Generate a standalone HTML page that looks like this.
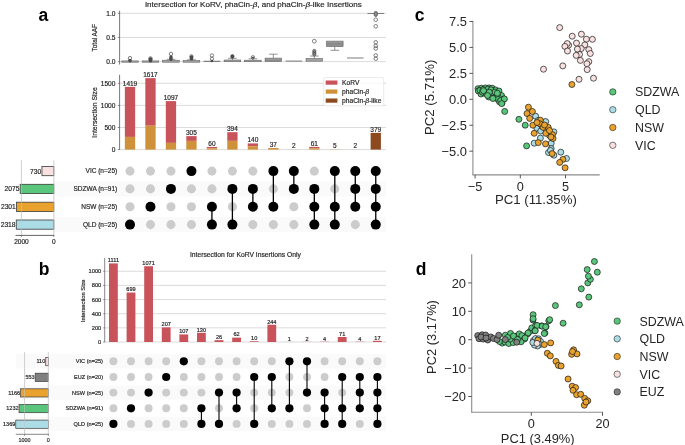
<!DOCTYPE html>
<html><head><meta charset="utf-8"><style>
html,body{margin:0;padding:0;background:#fff;}
body{width:685px;height:445px;overflow:hidden;}
svg{display:block;font-family:"Liberation Sans", sans-serif;will-change:transform;}
</style></head><body>
<svg width="685" height="445" viewBox="0 0 685 445">
<rect width="685" height="445" fill="#fff"/>
<text x="38.50" y="20.90" font-size="17.5" text-anchor="start" fill="#000" font-weight="bold">a</text>
<text x="38.80" y="274.60" font-size="17.5" text-anchor="start" fill="#000" font-weight="bold">b</text>
<text x="414.80" y="20.60" font-size="17.5" text-anchor="start" fill="#000" font-weight="bold">c</text>
<text x="415.80" y="274.60" font-size="17.5" text-anchor="start" fill="#000" font-weight="bold">d</text>
<text x="253.30" y="7.30" font-size="8.03" text-anchor="middle" fill="#262626" stroke="#262626" stroke-width="0.18">Intersection for KoRV, phaCin-<tspan font-style="italic">β</tspan>, and phaCin-<tspan font-style="italic">β</tspan>-like Insertions</text>
<line x1="119.60" y1="61.60" x2="386.00" y2="61.60" stroke="#d2d2d2" stroke-width="0.8"/>
<line x1="117.80" y1="61.60" x2="119.60" y2="61.60" stroke="#555" stroke-width="0.7"/>
<text x="115.40" y="64.20" font-size="6.6" text-anchor="end" fill="#262626" stroke="#262626" stroke-width="0.18">0.0</text>
<line x1="119.60" y1="37.45" x2="386.00" y2="37.45" stroke="#d2d2d2" stroke-width="0.8"/>
<line x1="117.80" y1="37.45" x2="119.60" y2="37.45" stroke="#555" stroke-width="0.7"/>
<text x="115.40" y="40.05" font-size="6.6" text-anchor="end" fill="#262626" stroke="#262626" stroke-width="0.18">0.5</text>
<line x1="119.60" y1="13.30" x2="386.00" y2="13.30" stroke="#d2d2d2" stroke-width="0.8"/>
<line x1="117.80" y1="13.30" x2="119.60" y2="13.30" stroke="#555" stroke-width="0.7"/>
<text x="115.40" y="15.90" font-size="6.6" text-anchor="end" fill="#262626" stroke="#262626" stroke-width="0.18">1.0</text>
<line x1="119.60" y1="10.80" x2="119.60" y2="64.60" stroke="#555" stroke-width="0.8"/>
<text x="96.80" y="37.70" font-size="6.4" text-anchor="middle" fill="#262626" transform="rotate(-90 96.8 37.7)" stroke="#262626" stroke-width="0.18">Total AAF</text>
<rect x="121.70" y="60.90" width="16.60" height="1.30" fill="#a2a2a2" stroke="#666666" stroke-width="0.6"/>
<rect x="128.20" y="58.80" width="3.60" height="3.60" rx="1.80" fill="#4a4a4a"/>
<circle cx="130.00" cy="58.10" r="1.70" fill="none" stroke="#4a4a4a" stroke-width="0.7"/>
<rect x="142.18" y="60.90" width="16.60" height="1.30" fill="#a2a2a2" stroke="#666666" stroke-width="0.6"/>
<rect x="148.58" y="57.30" width="3.80" height="5.10" rx="1.90" fill="#4a4a4a"/>
<circle cx="150.48" cy="58.40" r="1.70" fill="none" stroke="#4a4a4a" stroke-width="0.7"/>
<line x1="170.96" y1="60.20" x2="170.96" y2="59.30" stroke="#666666" stroke-width="0.7"/>
<line x1="166.66" y1="59.30" x2="175.26" y2="59.30" stroke="#666666" stroke-width="0.7"/>
<rect x="162.66" y="60.20" width="16.60" height="2.00" fill="#a2a2a2" stroke="#666666" stroke-width="0.6"/>
<rect x="169.26" y="55.30" width="3.40" height="5.70" rx="1.70" fill="#4a4a4a"/>
<circle cx="170.96" cy="53.90" r="1.70" fill="none" stroke="#4a4a4a" stroke-width="0.7"/>
<line x1="191.44" y1="60.50" x2="191.44" y2="59.80" stroke="#666666" stroke-width="0.7"/>
<line x1="187.14" y1="59.80" x2="195.74" y2="59.80" stroke="#666666" stroke-width="0.7"/>
<rect x="183.14" y="60.50" width="16.60" height="1.70" fill="#a2a2a2" stroke="#666666" stroke-width="0.6"/>
<rect x="189.64" y="55.20" width="3.60" height="5.30" rx="1.80" fill="#4a4a4a"/>
<circle cx="191.44" cy="56.30" r="1.60" fill="none" stroke="#4a4a4a" stroke-width="0.7"/>
<line x1="203.62" y1="61.30" x2="220.22" y2="61.30" stroke="#666666" stroke-width="1.0"/>
<circle cx="211.92" cy="55.50" r="1.70" fill="none" stroke="#4a4a4a" stroke-width="0.7"/>
<circle cx="211.92" cy="58.80" r="1.70" fill="none" stroke="#4a4a4a" stroke-width="0.7"/>
<rect x="210.62" y="59.80" width="2.60" height="2.50" rx="1.30" fill="#4a4a4a"/>
<line x1="232.40" y1="60.00" x2="232.40" y2="58.30" stroke="#666666" stroke-width="0.7"/>
<line x1="228.10" y1="58.30" x2="236.70" y2="58.30" stroke="#666666" stroke-width="0.7"/>
<rect x="224.10" y="60.00" width="16.60" height="1.70" fill="#a2a2a2" stroke="#666666" stroke-width="0.6"/>
<rect x="230.60" y="54.60" width="3.60" height="4.20" rx="1.80" fill="#4a4a4a"/>
<circle cx="232.40" cy="56.20" r="1.60" fill="none" stroke="#4a4a4a" stroke-width="0.7"/>
<line x1="252.88" y1="60.20" x2="252.88" y2="58.80" stroke="#666666" stroke-width="0.7"/>
<line x1="248.58" y1="58.80" x2="257.18" y2="58.80" stroke="#666666" stroke-width="0.7"/>
<rect x="244.58" y="60.20" width="16.60" height="1.50" fill="#a2a2a2" stroke="#666666" stroke-width="0.6"/>
<circle cx="252.88" cy="57.30" r="1.70" fill="none" stroke="#4a4a4a" stroke-width="0.7"/>
<rect x="251.58" y="56.80" width="2.60" height="1.60" rx="1.30" fill="#4a4a4a"/>
<line x1="273.36" y1="58.10" x2="273.36" y2="54.20" stroke="#666666" stroke-width="0.7"/>
<line x1="269.06" y1="54.20" x2="277.66" y2="54.20" stroke="#666666" stroke-width="0.7"/>
<rect x="265.06" y="58.10" width="16.60" height="3.50" fill="#a2a2a2" stroke="#666666" stroke-width="0.6"/>
<line x1="265.06" y1="60.20" x2="281.66" y2="60.20" stroke="#666666" stroke-width="0.6"/>
<line x1="285.54" y1="61.10" x2="302.14" y2="61.10" stroke="#777" stroke-width="1.0"/>
<line x1="314.32" y1="58.50" x2="314.32" y2="56.00" stroke="#666666" stroke-width="0.7"/>
<line x1="310.02" y1="56.00" x2="318.62" y2="56.00" stroke="#666666" stroke-width="0.7"/>
<rect x="306.02" y="58.50" width="16.60" height="2.70" fill="#a2a2a2" stroke="#666666" stroke-width="0.6"/>
<circle cx="314.32" cy="41.20" r="1.90" fill="none" stroke="#4a4a4a" stroke-width="0.7"/>
<rect x="312.72" y="49.4" width="3.2" height="6.6" rx="1.5" fill="#9a9a9a"/>
<circle cx="314.32" cy="50.90" r="1.60" fill="none" stroke="#4a4a4a" stroke-width="0.7"/>
<circle cx="314.32" cy="52.70" r="1.60" fill="none" stroke="#4a4a4a" stroke-width="0.7"/>
<circle cx="314.32" cy="54.40" r="1.60" fill="none" stroke="#4a4a4a" stroke-width="0.7"/>
<line x1="334.80" y1="46.70" x2="334.80" y2="50.30" stroke="#666666" stroke-width="0.7"/>
<line x1="330.50" y1="50.30" x2="339.10" y2="50.30" stroke="#666666" stroke-width="0.7"/>
<rect x="326.50" y="41.10" width="16.60" height="5.60" fill="#a2a2a2" stroke="#666666" stroke-width="0.6"/>
<line x1="326.50" y1="43.20" x2="343.10" y2="43.20" stroke="#666666" stroke-width="0.6"/>
<line x1="326.50" y1="45.00" x2="343.10" y2="45.00" stroke="#666666" stroke-width="0.6"/>
<line x1="346.98" y1="58.00" x2="363.58" y2="58.00" stroke="#a3a3a3" stroke-width="1.4"/>
<line x1="367.46" y1="13.50" x2="384.06" y2="13.50" stroke="#666666" stroke-width="0.8"/>
<circle cx="375.76" cy="19.70" r="1.80" fill="none" stroke="#4a4a4a" stroke-width="0.7"/>
<circle cx="375.76" cy="26.30" r="1.80" fill="none" stroke="#4a4a4a" stroke-width="0.7"/>
<circle cx="375.76" cy="42.30" r="1.80" fill="none" stroke="#4a4a4a" stroke-width="0.7"/>
<circle cx="375.76" cy="45.90" r="1.80" fill="none" stroke="#4a4a4a" stroke-width="0.7"/>
<circle cx="375.76" cy="48.50" r="1.80" fill="none" stroke="#4a4a4a" stroke-width="0.7"/>
<circle cx="375.76" cy="55.40" r="1.80" fill="none" stroke="#4a4a4a" stroke-width="0.7"/>
<circle cx="375.76" cy="58.70" r="1.80" fill="none" stroke="#4a4a4a" stroke-width="0.7"/>
<rect x="374.16" y="11.4" width="3.2" height="5.0" rx="1.5" fill="#8a8a8a" stroke="#4a4a4a" stroke-width="0.7"/>
<line x1="119.60" y1="149.60" x2="386.00" y2="149.60" stroke="#d2d2d2" stroke-width="0.8"/>
<line x1="117.80" y1="149.60" x2="119.60" y2="149.60" stroke="#555" stroke-width="0.7"/>
<text x="115.40" y="152.20" font-size="6.6" text-anchor="end" fill="#262626" stroke="#262626" stroke-width="0.18">0</text>
<line x1="119.60" y1="127.50" x2="386.00" y2="127.50" stroke="#d2d2d2" stroke-width="0.8"/>
<line x1="117.80" y1="127.50" x2="119.60" y2="127.50" stroke="#555" stroke-width="0.7"/>
<text x="115.40" y="130.10" font-size="6.6" text-anchor="end" fill="#262626" stroke="#262626" stroke-width="0.18">500</text>
<line x1="119.60" y1="105.40" x2="386.00" y2="105.40" stroke="#d2d2d2" stroke-width="0.8"/>
<line x1="117.80" y1="105.40" x2="119.60" y2="105.40" stroke="#555" stroke-width="0.7"/>
<text x="115.40" y="108.00" font-size="6.6" text-anchor="end" fill="#262626" stroke="#262626" stroke-width="0.18">1000</text>
<line x1="119.60" y1="83.30" x2="386.00" y2="83.30" stroke="#d2d2d2" stroke-width="0.8"/>
<line x1="117.80" y1="83.30" x2="119.60" y2="83.30" stroke="#555" stroke-width="0.7"/>
<text x="115.40" y="85.90" font-size="6.6" text-anchor="end" fill="#262626" stroke="#262626" stroke-width="0.18">1500</text>
<line x1="119.60" y1="74.80" x2="119.60" y2="149.90" stroke="#555" stroke-width="0.8"/>
<text x="97.10" y="112.50" font-size="6.83" text-anchor="middle" fill="#262626" transform="rotate(-90 97.1 112.5)" stroke="#262626" stroke-width="0.18">Intersection Size</text>
<rect x="124.85" y="86.88" width="10.30" height="50.03" fill="#c9535b"/>
<rect x="124.85" y="136.91" width="10.30" height="12.69" fill="#cf923a"/>
<text x="130.00" y="85.58" font-size="6.5" text-anchor="middle" fill="#262626" stroke="#262626" stroke-width="0.18">1419</text>
<rect x="145.33" y="78.13" width="10.30" height="47.56" fill="#c9535b"/>
<rect x="145.33" y="125.69" width="10.30" height="23.91" fill="#cf923a"/>
<text x="150.48" y="76.83" font-size="6.5" text-anchor="middle" fill="#262626" stroke="#262626" stroke-width="0.18">1617</text>
<rect x="165.81" y="101.11" width="10.30" height="41.77" fill="#c9535b"/>
<rect x="165.81" y="142.88" width="10.30" height="6.72" fill="#cf923a"/>
<text x="170.96" y="99.81" font-size="6.5" text-anchor="middle" fill="#262626" stroke="#262626" stroke-width="0.18">1097</text>
<rect x="186.29" y="136.12" width="10.30" height="4.77" fill="#c9535b"/>
<rect x="186.29" y="140.89" width="10.30" height="8.71" fill="#cf923a"/>
<text x="191.44" y="134.82" font-size="6.5" text-anchor="middle" fill="#262626" stroke="#262626" stroke-width="0.18">305</text>
<rect x="206.77" y="146.95" width="10.30" height="1.33" fill="#c9535b"/>
<rect x="206.77" y="148.27" width="10.30" height="1.33" fill="#cf923a"/>
<text x="211.92" y="145.65" font-size="6.5" text-anchor="middle" fill="#262626" stroke="#262626" stroke-width="0.18">60</text>
<rect x="227.25" y="132.19" width="10.30" height="8.66" fill="#c9535b"/>
<rect x="227.25" y="140.85" width="10.30" height="8.75" fill="#cf923a"/>
<text x="232.40" y="130.89" font-size="6.5" text-anchor="middle" fill="#262626" stroke="#262626" stroke-width="0.18">394</text>
<rect x="247.73" y="143.41" width="10.30" height="2.87" fill="#c9535b"/>
<rect x="247.73" y="146.28" width="10.30" height="3.32" fill="#cf923a"/>
<text x="252.88" y="142.11" font-size="6.5" text-anchor="middle" fill="#262626" stroke="#262626" stroke-width="0.18">140</text>
<rect x="268.21" y="147.96" width="10.30" height="1.64" fill="#cf923a"/>
<text x="273.36" y="146.66" font-size="6.5" text-anchor="middle" fill="#262626" stroke="#262626" stroke-width="0.18">37</text>
<rect x="288.69" y="149.51" width="10.30" height="0.09" fill="#cf923a"/>
<text x="293.84" y="148.21" font-size="6.5" text-anchor="middle" fill="#262626" stroke="#262626" stroke-width="0.18">2</text>
<rect x="309.17" y="146.90" width="10.30" height="1.37" fill="#c9535b"/>
<rect x="309.17" y="148.27" width="10.30" height="1.33" fill="#cf923a"/>
<text x="314.32" y="145.60" font-size="6.5" text-anchor="middle" fill="#262626" stroke="#262626" stroke-width="0.18">61</text>
<rect x="329.65" y="149.38" width="10.30" height="0.22" fill="#cf923a"/>
<text x="334.80" y="148.08" font-size="6.5" text-anchor="middle" fill="#262626" stroke="#262626" stroke-width="0.18">5</text>
<rect x="350.13" y="149.51" width="10.30" height="0.09" fill="#cf923a"/>
<text x="355.28" y="148.21" font-size="6.5" text-anchor="middle" fill="#262626" stroke="#262626" stroke-width="0.18">2</text>
<rect x="370.61" y="132.85" width="10.30" height="16.75" fill="#8c4a1e"/>
<text x="375.76" y="131.55" font-size="6.5" text-anchor="middle" fill="#262626" stroke="#262626" stroke-width="0.18">379</text>
<rect x="323.7" y="77.5" width="60.0" height="28.4" rx="1.5" fill="#fff" fill-opacity="0.8" stroke="#dddddd" stroke-width="0.6"/>
<rect x="325.70" y="80.50" width="11.70" height="4.20" fill="#c9535b"/>
<text x="342.10" y="84.90" font-size="6.65" text-anchor="start" fill="#262626" stroke="#262626" stroke-width="0.18">KoRV</text>
<rect x="325.70" y="89.50" width="11.70" height="4.20" fill="#cf923a"/>
<text x="342.10" y="93.90" font-size="6.65" text-anchor="start" fill="#262626" stroke="#262626" stroke-width="0.18">phaCin-<tspan font-style="italic">β</tspan></text>
<rect x="325.70" y="98.50" width="11.70" height="4.20" fill="#8c4a1e"/>
<text x="342.10" y="102.90" font-size="6.65" text-anchor="start" fill="#262626" stroke="#262626" stroke-width="0.18">phaCin-<tspan font-style="italic">β</tspan>-like</text>
<rect x="54.00" y="181.40" width="332.00" height="15.00" fill="#fafafa"/>
<rect x="54.00" y="217.10" width="332.00" height="15.00" fill="#fafafa"/>
<circle cx="130.00" cy="171.10" r="4.55" fill="#cccccc"/>
<circle cx="130.00" cy="188.90" r="4.55" fill="#cccccc"/>
<circle cx="130.00" cy="206.80" r="4.55" fill="#cccccc"/>
<circle cx="130.00" cy="224.60" r="5.00" fill="#000"/>
<circle cx="150.48" cy="171.10" r="4.55" fill="#cccccc"/>
<circle cx="150.48" cy="188.90" r="4.55" fill="#cccccc"/>
<circle cx="150.48" cy="224.60" r="4.55" fill="#cccccc"/>
<circle cx="150.48" cy="206.80" r="5.00" fill="#000"/>
<circle cx="170.96" cy="171.10" r="4.55" fill="#cccccc"/>
<circle cx="170.96" cy="206.80" r="4.55" fill="#cccccc"/>
<circle cx="170.96" cy="224.60" r="4.55" fill="#cccccc"/>
<circle cx="170.96" cy="188.90" r="5.00" fill="#000"/>
<circle cx="191.44" cy="188.90" r="4.55" fill="#cccccc"/>
<circle cx="191.44" cy="206.80" r="4.55" fill="#cccccc"/>
<circle cx="191.44" cy="224.60" r="4.55" fill="#cccccc"/>
<circle cx="191.44" cy="171.10" r="5.00" fill="#000"/>
<circle cx="211.92" cy="171.10" r="4.55" fill="#cccccc"/>
<circle cx="211.92" cy="188.90" r="4.55" fill="#cccccc"/>
<line x1="211.92" y1="206.80" x2="211.92" y2="224.60" stroke="#000" stroke-width="1.3"/>
<circle cx="211.92" cy="206.80" r="5.00" fill="#000"/>
<circle cx="211.92" cy="224.60" r="5.00" fill="#000"/>
<circle cx="232.40" cy="171.10" r="4.55" fill="#cccccc"/>
<circle cx="232.40" cy="206.80" r="4.55" fill="#cccccc"/>
<line x1="232.40" y1="188.90" x2="232.40" y2="224.60" stroke="#000" stroke-width="1.3"/>
<circle cx="232.40" cy="188.90" r="5.00" fill="#000"/>
<circle cx="232.40" cy="224.60" r="5.00" fill="#000"/>
<circle cx="252.88" cy="171.10" r="4.55" fill="#cccccc"/>
<circle cx="252.88" cy="224.60" r="4.55" fill="#cccccc"/>
<line x1="252.88" y1="188.90" x2="252.88" y2="206.80" stroke="#000" stroke-width="1.3"/>
<circle cx="252.88" cy="188.90" r="5.00" fill="#000"/>
<circle cx="252.88" cy="206.80" r="5.00" fill="#000"/>
<circle cx="273.36" cy="188.90" r="4.55" fill="#cccccc"/>
<circle cx="273.36" cy="224.60" r="4.55" fill="#cccccc"/>
<line x1="273.36" y1="171.10" x2="273.36" y2="206.80" stroke="#000" stroke-width="1.3"/>
<circle cx="273.36" cy="171.10" r="5.00" fill="#000"/>
<circle cx="273.36" cy="206.80" r="5.00" fill="#000"/>
<circle cx="293.84" cy="206.80" r="4.55" fill="#cccccc"/>
<circle cx="293.84" cy="224.60" r="4.55" fill="#cccccc"/>
<line x1="293.84" y1="171.10" x2="293.84" y2="188.90" stroke="#000" stroke-width="1.3"/>
<circle cx="293.84" cy="171.10" r="5.00" fill="#000"/>
<circle cx="293.84" cy="188.90" r="5.00" fill="#000"/>
<circle cx="314.32" cy="171.10" r="4.55" fill="#cccccc"/>
<line x1="314.32" y1="188.90" x2="314.32" y2="224.60" stroke="#000" stroke-width="1.3"/>
<circle cx="314.32" cy="188.90" r="5.00" fill="#000"/>
<circle cx="314.32" cy="206.80" r="5.00" fill="#000"/>
<circle cx="314.32" cy="224.60" r="5.00" fill="#000"/>
<circle cx="334.80" cy="188.90" r="4.55" fill="#cccccc"/>
<line x1="334.80" y1="171.10" x2="334.80" y2="224.60" stroke="#000" stroke-width="1.3"/>
<circle cx="334.80" cy="171.10" r="5.00" fill="#000"/>
<circle cx="334.80" cy="206.80" r="5.00" fill="#000"/>
<circle cx="334.80" cy="224.60" r="5.00" fill="#000"/>
<circle cx="355.28" cy="224.60" r="4.55" fill="#cccccc"/>
<line x1="355.28" y1="171.10" x2="355.28" y2="206.80" stroke="#000" stroke-width="1.3"/>
<circle cx="355.28" cy="171.10" r="5.00" fill="#000"/>
<circle cx="355.28" cy="188.90" r="5.00" fill="#000"/>
<circle cx="355.28" cy="206.80" r="5.00" fill="#000"/>
<line x1="375.76" y1="171.10" x2="375.76" y2="224.60" stroke="#000" stroke-width="1.3"/>
<circle cx="375.76" cy="171.10" r="5.00" fill="#000"/>
<circle cx="375.76" cy="188.90" r="5.00" fill="#000"/>
<circle cx="375.76" cy="206.80" r="5.00" fill="#000"/>
<circle cx="375.76" cy="224.60" r="5.00" fill="#000"/>
<text x="117.20" y="173.40" font-size="6.5" text-anchor="end" fill="#262626" stroke="#262626" stroke-width="0.18">VIC (n=25)</text>
<text x="117.20" y="191.20" font-size="6.5" text-anchor="end" fill="#262626" stroke="#262626" stroke-width="0.18">SDZWA (n=91)</text>
<text x="117.20" y="209.10" font-size="6.5" text-anchor="end" fill="#262626" stroke="#262626" stroke-width="0.18">NSW (n=25)</text>
<text x="117.20" y="226.90" font-size="6.5" text-anchor="end" fill="#262626" stroke="#262626" stroke-width="0.18">QLD (n=25)</text>
<line x1="21.40" y1="160.30" x2="21.40" y2="235.10" stroke="#d2d2d2" stroke-width="0.7"/>
<line x1="53.80" y1="160.30" x2="53.80" y2="235.10" stroke="#d2d2d2" stroke-width="0.7"/>
<rect x="41.97" y="166.50" width="11.83" height="9.20" fill="#f8e1e0" stroke="#3a3a3a" stroke-width="0.8"/>
<text x="41.27" y="173.50" font-size="6.7" text-anchor="end" fill="#262626" stroke="#262626" stroke-width="0.18">730</text>
<rect x="20.19" y="184.30" width="33.61" height="9.20" fill="#5ac67c" stroke="#3a3a3a" stroke-width="0.8"/>
<text x="19.49" y="191.30" font-size="6.7" text-anchor="end" fill="#262626" stroke="#262626" stroke-width="0.18">2075</text>
<rect x="16.52" y="202.20" width="37.28" height="9.20" fill="#e9a22d" stroke="#3a3a3a" stroke-width="0.8"/>
<text x="15.82" y="209.20" font-size="6.7" text-anchor="end" fill="#262626" stroke="#262626" stroke-width="0.18">2301</text>
<rect x="16.25" y="220.00" width="37.55" height="9.20" fill="#acdde6" stroke="#3a3a3a" stroke-width="0.8"/>
<text x="15.55" y="227.00" font-size="6.7" text-anchor="end" fill="#262626" stroke="#262626" stroke-width="0.18">2318</text>
<line x1="21.40" y1="160.30" x2="21.40" y2="235.10" stroke="#c8c8c8" stroke-width="0.7" stroke-opacity="0.8"/>
<line x1="53.80" y1="160.30" x2="53.80" y2="235.10" stroke="#d2d2d2" stroke-width="0.7"/>
<line x1="15.50" y1="235.40" x2="54.20" y2="235.40" stroke="#555" stroke-width="0.9"/>
<line x1="21.40" y1="235.10" x2="21.40" y2="236.90" stroke="#555" stroke-width="0.7"/>
<text x="21.40" y="243.60" font-size="6.5" text-anchor="middle" fill="#262626" stroke="#262626" stroke-width="0.18">2000</text>
<line x1="53.80" y1="235.10" x2="53.80" y2="236.90" stroke="#555" stroke-width="0.7"/>
<text x="53.80" y="243.60" font-size="6.5" text-anchor="middle" fill="#262626" stroke="#262626" stroke-width="0.18">0</text>
<text x="245.40" y="256.90" font-size="6.75" text-anchor="middle" fill="#262626" stroke="#262626" stroke-width="0.18">Intersection for KoRV Insertions Only</text>
<line x1="104.70" y1="342.00" x2="386.00" y2="342.00" stroke="#d2d2d2" stroke-width="0.8"/>
<line x1="103.10" y1="342.00" x2="104.70" y2="342.00" stroke="#555" stroke-width="0.6"/>
<text x="101.30" y="344.00" font-size="5.75" text-anchor="end" fill="#262626" stroke="#262626" stroke-width="0.18">0</text>
<line x1="104.70" y1="327.85" x2="386.00" y2="327.85" stroke="#d2d2d2" stroke-width="0.8"/>
<line x1="103.10" y1="327.85" x2="104.70" y2="327.85" stroke="#555" stroke-width="0.6"/>
<text x="101.30" y="329.85" font-size="5.75" text-anchor="end" fill="#262626" stroke="#262626" stroke-width="0.18">200</text>
<line x1="104.70" y1="313.70" x2="386.00" y2="313.70" stroke="#d2d2d2" stroke-width="0.8"/>
<line x1="103.10" y1="313.70" x2="104.70" y2="313.70" stroke="#555" stroke-width="0.6"/>
<text x="101.30" y="315.70" font-size="5.75" text-anchor="end" fill="#262626" stroke="#262626" stroke-width="0.18">400</text>
<line x1="104.70" y1="299.55" x2="386.00" y2="299.55" stroke="#d2d2d2" stroke-width="0.8"/>
<line x1="103.10" y1="299.55" x2="104.70" y2="299.55" stroke="#555" stroke-width="0.6"/>
<text x="101.30" y="301.55" font-size="5.75" text-anchor="end" fill="#262626" stroke="#262626" stroke-width="0.18">600</text>
<line x1="104.70" y1="285.40" x2="386.00" y2="285.40" stroke="#d2d2d2" stroke-width="0.8"/>
<line x1="103.10" y1="285.40" x2="104.70" y2="285.40" stroke="#555" stroke-width="0.6"/>
<text x="101.30" y="287.40" font-size="5.75" text-anchor="end" fill="#262626" stroke="#262626" stroke-width="0.18">800</text>
<line x1="104.70" y1="271.25" x2="386.00" y2="271.25" stroke="#d2d2d2" stroke-width="0.8"/>
<line x1="103.10" y1="271.25" x2="104.70" y2="271.25" stroke="#555" stroke-width="0.6"/>
<text x="101.30" y="273.25" font-size="5.75" text-anchor="end" fill="#262626" stroke="#262626" stroke-width="0.18">1000</text>
<line x1="104.70" y1="258.00" x2="104.70" y2="342.30" stroke="#555" stroke-width="0.7"/>
<text x="85.40" y="300.80" font-size="5.79" text-anchor="middle" fill="#262626" transform="rotate(-90 85.4 300.8)" stroke="#262626" stroke-width="0.18">Intersection Size</text>
<rect x="109.00" y="263.40" width="8.80" height="78.60" fill="#c9535b"/>
<text x="113.40" y="262.20" font-size="5.6" text-anchor="middle" fill="#262626" stroke="#262626" stroke-width="0.18">1111</text>
<rect x="126.60" y="292.55" width="8.80" height="49.45" fill="#c9535b"/>
<text x="131.00" y="291.35" font-size="5.6" text-anchor="middle" fill="#262626" stroke="#262626" stroke-width="0.18">699</text>
<rect x="144.20" y="266.23" width="8.80" height="75.77" fill="#c9535b"/>
<text x="148.60" y="265.03" font-size="5.6" text-anchor="middle" fill="#262626" stroke="#262626" stroke-width="0.18">1071</text>
<rect x="161.80" y="327.35" width="8.80" height="14.65" fill="#c9535b"/>
<text x="166.20" y="326.15" font-size="5.6" text-anchor="middle" fill="#262626" stroke="#262626" stroke-width="0.18">207</text>
<rect x="179.40" y="334.43" width="8.80" height="7.57" fill="#c9535b"/>
<text x="183.80" y="333.23" font-size="5.6" text-anchor="middle" fill="#262626" stroke="#262626" stroke-width="0.18">107</text>
<rect x="197.00" y="332.80" width="8.80" height="9.20" fill="#c9535b"/>
<text x="201.40" y="331.60" font-size="5.6" text-anchor="middle" fill="#262626" stroke="#262626" stroke-width="0.18">130</text>
<rect x="214.60" y="340.16" width="8.80" height="1.84" fill="#c9535b"/>
<text x="219.00" y="338.96" font-size="5.6" text-anchor="middle" fill="#262626" stroke="#262626" stroke-width="0.18">26</text>
<rect x="232.20" y="337.61" width="8.80" height="4.39" fill="#c9535b"/>
<text x="236.60" y="336.41" font-size="5.6" text-anchor="middle" fill="#262626" stroke="#262626" stroke-width="0.18">62</text>
<rect x="249.80" y="341.29" width="8.80" height="0.71" fill="#c9535b"/>
<text x="254.20" y="340.09" font-size="5.6" text-anchor="middle" fill="#262626" stroke="#262626" stroke-width="0.18">10</text>
<rect x="267.40" y="324.74" width="8.80" height="17.26" fill="#c9535b"/>
<text x="271.80" y="323.54" font-size="5.6" text-anchor="middle" fill="#262626" stroke="#262626" stroke-width="0.18">244</text>
<rect x="285.00" y="341.93" width="8.80" height="0.07" fill="#c9535b"/>
<text x="289.40" y="340.73" font-size="5.6" text-anchor="middle" fill="#262626" stroke="#262626" stroke-width="0.18">1</text>
<rect x="302.60" y="341.86" width="8.80" height="0.14" fill="#c9535b"/>
<text x="307.00" y="340.66" font-size="5.6" text-anchor="middle" fill="#262626" stroke="#262626" stroke-width="0.18">2</text>
<rect x="320.20" y="341.72" width="8.80" height="0.28" fill="#c9535b"/>
<text x="324.60" y="340.52" font-size="5.6" text-anchor="middle" fill="#262626" stroke="#262626" stroke-width="0.18">4</text>
<rect x="337.80" y="336.98" width="8.80" height="5.02" fill="#c9535b"/>
<text x="342.20" y="335.78" font-size="5.6" text-anchor="middle" fill="#262626" stroke="#262626" stroke-width="0.18">71</text>
<rect x="355.40" y="341.72" width="8.80" height="0.28" fill="#c9535b"/>
<text x="359.80" y="340.52" font-size="5.6" text-anchor="middle" fill="#262626" stroke="#262626" stroke-width="0.18">4</text>
<rect x="373.00" y="340.80" width="8.80" height="1.20" fill="#c9535b"/>
<text x="377.40" y="339.60" font-size="5.6" text-anchor="middle" fill="#262626" stroke="#262626" stroke-width="0.18">17</text>
<rect x="15.70" y="354.20" width="370.30" height="14.20" fill="#fafafa"/>
<rect x="15.70" y="385.50" width="370.30" height="14.20" fill="#fafafa"/>
<rect x="15.70" y="416.80" width="370.30" height="14.20" fill="#fafafa"/>
<circle cx="113.40" cy="361.30" r="3.95" fill="#cccccc"/>
<circle cx="113.40" cy="377.00" r="3.95" fill="#cccccc"/>
<circle cx="113.40" cy="392.60" r="3.95" fill="#cccccc"/>
<circle cx="113.40" cy="408.30" r="3.95" fill="#cccccc"/>
<circle cx="113.40" cy="423.90" r="4.10" fill="#000"/>
<circle cx="131.00" cy="361.30" r="3.95" fill="#cccccc"/>
<circle cx="131.00" cy="377.00" r="3.95" fill="#cccccc"/>
<circle cx="131.00" cy="392.60" r="3.95" fill="#cccccc"/>
<circle cx="131.00" cy="423.90" r="3.95" fill="#cccccc"/>
<circle cx="131.00" cy="408.30" r="4.10" fill="#000"/>
<circle cx="148.60" cy="361.30" r="3.95" fill="#cccccc"/>
<circle cx="148.60" cy="377.00" r="3.95" fill="#cccccc"/>
<circle cx="148.60" cy="408.30" r="3.95" fill="#cccccc"/>
<circle cx="148.60" cy="423.90" r="3.95" fill="#cccccc"/>
<circle cx="148.60" cy="392.60" r="4.10" fill="#000"/>
<circle cx="166.20" cy="361.30" r="3.95" fill="#cccccc"/>
<circle cx="166.20" cy="392.60" r="3.95" fill="#cccccc"/>
<circle cx="166.20" cy="408.30" r="3.95" fill="#cccccc"/>
<circle cx="166.20" cy="423.90" r="3.95" fill="#cccccc"/>
<circle cx="166.20" cy="377.00" r="4.10" fill="#000"/>
<circle cx="183.80" cy="377.00" r="3.95" fill="#cccccc"/>
<circle cx="183.80" cy="392.60" r="3.95" fill="#cccccc"/>
<circle cx="183.80" cy="408.30" r="3.95" fill="#cccccc"/>
<circle cx="183.80" cy="423.90" r="3.95" fill="#cccccc"/>
<circle cx="183.80" cy="361.30" r="4.10" fill="#000"/>
<circle cx="201.40" cy="361.30" r="3.95" fill="#cccccc"/>
<circle cx="201.40" cy="377.00" r="3.95" fill="#cccccc"/>
<circle cx="201.40" cy="392.60" r="3.95" fill="#cccccc"/>
<line x1="201.40" y1="408.30" x2="201.40" y2="423.90" stroke="#000" stroke-width="1.1"/>
<circle cx="201.40" cy="408.30" r="4.10" fill="#000"/>
<circle cx="201.40" cy="423.90" r="4.10" fill="#000"/>
<circle cx="219.00" cy="361.30" r="3.95" fill="#cccccc"/>
<circle cx="219.00" cy="377.00" r="3.95" fill="#cccccc"/>
<circle cx="219.00" cy="408.30" r="3.95" fill="#cccccc"/>
<line x1="219.00" y1="392.60" x2="219.00" y2="423.90" stroke="#000" stroke-width="1.1"/>
<circle cx="219.00" cy="392.60" r="4.10" fill="#000"/>
<circle cx="219.00" cy="423.90" r="4.10" fill="#000"/>
<circle cx="236.60" cy="361.30" r="3.95" fill="#cccccc"/>
<circle cx="236.60" cy="377.00" r="3.95" fill="#cccccc"/>
<circle cx="236.60" cy="423.90" r="3.95" fill="#cccccc"/>
<line x1="236.60" y1="392.60" x2="236.60" y2="408.30" stroke="#000" stroke-width="1.1"/>
<circle cx="236.60" cy="392.60" r="4.10" fill="#000"/>
<circle cx="236.60" cy="408.30" r="4.10" fill="#000"/>
<circle cx="254.20" cy="361.30" r="3.95" fill="#cccccc"/>
<circle cx="254.20" cy="392.60" r="3.95" fill="#cccccc"/>
<circle cx="254.20" cy="408.30" r="3.95" fill="#cccccc"/>
<line x1="254.20" y1="377.00" x2="254.20" y2="423.90" stroke="#000" stroke-width="1.1"/>
<circle cx="254.20" cy="377.00" r="4.10" fill="#000"/>
<circle cx="254.20" cy="423.90" r="4.10" fill="#000"/>
<circle cx="271.80" cy="361.30" r="3.95" fill="#cccccc"/>
<circle cx="271.80" cy="392.60" r="3.95" fill="#cccccc"/>
<circle cx="271.80" cy="423.90" r="3.95" fill="#cccccc"/>
<line x1="271.80" y1="377.00" x2="271.80" y2="408.30" stroke="#000" stroke-width="1.1"/>
<circle cx="271.80" cy="377.00" r="4.10" fill="#000"/>
<circle cx="271.80" cy="408.30" r="4.10" fill="#000"/>
<circle cx="289.40" cy="377.00" r="3.95" fill="#cccccc"/>
<circle cx="289.40" cy="392.60" r="3.95" fill="#cccccc"/>
<circle cx="289.40" cy="423.90" r="3.95" fill="#cccccc"/>
<line x1="289.40" y1="361.30" x2="289.40" y2="408.30" stroke="#000" stroke-width="1.1"/>
<circle cx="289.40" cy="361.30" r="4.10" fill="#000"/>
<circle cx="289.40" cy="408.30" r="4.10" fill="#000"/>
<circle cx="307.00" cy="377.00" r="3.95" fill="#cccccc"/>
<circle cx="307.00" cy="408.30" r="3.95" fill="#cccccc"/>
<circle cx="307.00" cy="423.90" r="3.95" fill="#cccccc"/>
<line x1="307.00" y1="361.30" x2="307.00" y2="392.60" stroke="#000" stroke-width="1.1"/>
<circle cx="307.00" cy="361.30" r="4.10" fill="#000"/>
<circle cx="307.00" cy="392.60" r="4.10" fill="#000"/>
<circle cx="324.60" cy="361.30" r="3.95" fill="#cccccc"/>
<circle cx="324.60" cy="377.00" r="3.95" fill="#cccccc"/>
<line x1="324.60" y1="392.60" x2="324.60" y2="423.90" stroke="#000" stroke-width="1.1"/>
<circle cx="324.60" cy="392.60" r="4.10" fill="#000"/>
<circle cx="324.60" cy="408.30" r="4.10" fill="#000"/>
<circle cx="324.60" cy="423.90" r="4.10" fill="#000"/>
<circle cx="342.20" cy="361.30" r="3.95" fill="#cccccc"/>
<circle cx="342.20" cy="392.60" r="3.95" fill="#cccccc"/>
<line x1="342.20" y1="377.00" x2="342.20" y2="423.90" stroke="#000" stroke-width="1.1"/>
<circle cx="342.20" cy="377.00" r="4.10" fill="#000"/>
<circle cx="342.20" cy="408.30" r="4.10" fill="#000"/>
<circle cx="342.20" cy="423.90" r="4.10" fill="#000"/>
<circle cx="359.80" cy="361.30" r="3.95" fill="#cccccc"/>
<circle cx="359.80" cy="423.90" r="3.95" fill="#cccccc"/>
<line x1="359.80" y1="377.00" x2="359.80" y2="408.30" stroke="#000" stroke-width="1.1"/>
<circle cx="359.80" cy="377.00" r="4.10" fill="#000"/>
<circle cx="359.80" cy="392.60" r="4.10" fill="#000"/>
<circle cx="359.80" cy="408.30" r="4.10" fill="#000"/>
<circle cx="377.40" cy="361.30" r="3.95" fill="#cccccc"/>
<line x1="377.40" y1="377.00" x2="377.40" y2="423.90" stroke="#000" stroke-width="1.1"/>
<circle cx="377.40" cy="377.00" r="4.10" fill="#000"/>
<circle cx="377.40" cy="392.60" r="4.10" fill="#000"/>
<circle cx="377.40" cy="408.30" r="4.10" fill="#000"/>
<circle cx="377.40" cy="423.90" r="4.10" fill="#000"/>
<text x="103.00" y="363.20" font-size="5.6" text-anchor="end" fill="#262626" stroke="#262626" stroke-width="0.18">VIC (n=25)</text>
<text x="103.00" y="378.90" font-size="5.6" text-anchor="end" fill="#262626" stroke="#262626" stroke-width="0.18">EUZ (n=20)</text>
<text x="103.00" y="394.50" font-size="5.6" text-anchor="end" fill="#262626" stroke="#262626" stroke-width="0.18">NSW (n=25)</text>
<text x="103.00" y="410.20" font-size="5.6" text-anchor="end" fill="#262626" stroke="#262626" stroke-width="0.18">SDZWA (n=91)</text>
<text x="103.00" y="425.80" font-size="5.6" text-anchor="end" fill="#262626" stroke="#262626" stroke-width="0.18">QLD (n=25)</text>
<line x1="24.55" y1="352.00" x2="24.55" y2="434.30" stroke="#d2d2d2" stroke-width="0.7"/>
<line x1="48.35" y1="352.00" x2="48.35" y2="434.30" stroke="#d2d2d2" stroke-width="0.7"/>
<rect x="45.73" y="357.50" width="2.62" height="8.20" fill="#f8e1e0" stroke="#3a3a3a" stroke-width="0.7"/>
<text x="45.23" y="363.20" font-size="5.5" text-anchor="end" fill="#262626" stroke="#262626" stroke-width="0.18">110</text>
<rect x="35.19" y="373.20" width="13.16" height="8.20" fill="#808080" stroke="#3a3a3a" stroke-width="0.7"/>
<text x="34.69" y="378.90" font-size="5.5" text-anchor="end" fill="#262626" stroke="#262626" stroke-width="0.18">553</text>
<rect x="20.60" y="388.80" width="27.75" height="8.20" fill="#e9a22d" stroke="#3a3a3a" stroke-width="0.7"/>
<text x="20.10" y="394.50" font-size="5.5" text-anchor="end" fill="#262626" stroke="#262626" stroke-width="0.18">1166</text>
<rect x="19.03" y="404.50" width="29.32" height="8.20" fill="#5ac67c" stroke="#3a3a3a" stroke-width="0.7"/>
<text x="18.53" y="410.20" font-size="5.5" text-anchor="end" fill="#262626" stroke="#262626" stroke-width="0.18">1232</text>
<rect x="15.77" y="420.10" width="32.58" height="8.20" fill="#acdde6" stroke="#3a3a3a" stroke-width="0.7"/>
<text x="15.27" y="425.80" font-size="5.5" text-anchor="end" fill="#262626" stroke="#262626" stroke-width="0.18">1369</text>
<line x1="24.55" y1="352.00" x2="24.55" y2="434.30" stroke="#c8c8c8" stroke-width="0.7" stroke-opacity="0.8"/>
<line x1="48.35" y1="352.00" x2="48.35" y2="434.30" stroke="#d2d2d2" stroke-width="0.7"/>
<line x1="15.80" y1="434.30" x2="48.80" y2="434.30" stroke="#555" stroke-width="0.7"/>
<line x1="24.55" y1="434.30" x2="24.55" y2="435.90" stroke="#555" stroke-width="0.6"/>
<text x="24.55" y="441.90" font-size="5.4" text-anchor="middle" fill="#262626" stroke="#262626" stroke-width="0.18">1000</text>
<line x1="48.35" y1="434.30" x2="48.35" y2="435.90" stroke="#555" stroke-width="0.6"/>
<text x="48.35" y="441.90" font-size="5.4" text-anchor="middle" fill="#262626" stroke="#262626" stroke-width="0.18">0</text>
<line x1="472.90" y1="20.70" x2="472.90" y2="175.00" stroke="#8c8c8c" stroke-width="1.1"/>
<line x1="472.40" y1="174.90" x2="599.70" y2="174.90" stroke="#8c8c8c" stroke-width="1.1"/>
<line x1="469.40" y1="21.48" x2="472.90" y2="21.48" stroke="#444" stroke-width="0.9"/>
<text x="467.00" y="26.28" font-size="12.9" text-anchor="end" fill="#262626">7.5</text>
<line x1="469.40" y1="47.42" x2="472.90" y2="47.42" stroke="#444" stroke-width="0.9"/>
<text x="467.00" y="52.22" font-size="12.9" text-anchor="end" fill="#262626">5.0</text>
<line x1="469.40" y1="73.36" x2="472.90" y2="73.36" stroke="#444" stroke-width="0.9"/>
<text x="467.00" y="78.16" font-size="12.9" text-anchor="end" fill="#262626">2.5</text>
<line x1="469.40" y1="99.30" x2="472.90" y2="99.30" stroke="#444" stroke-width="0.9"/>
<text x="467.00" y="104.10" font-size="12.9" text-anchor="end" fill="#262626">0.0</text>
<line x1="469.40" y1="125.24" x2="472.90" y2="125.24" stroke="#444" stroke-width="0.9"/>
<text x="467.00" y="130.04" font-size="12.9" text-anchor="end" fill="#262626">−2.5</text>
<line x1="469.40" y1="151.18" x2="472.90" y2="151.18" stroke="#444" stroke-width="0.9"/>
<text x="467.00" y="155.98" font-size="12.9" text-anchor="end" fill="#262626">−5.0</text>
<line x1="475.10" y1="174.90" x2="475.10" y2="178.40" stroke="#444" stroke-width="0.9"/>
<text x="475.10" y="191.00" font-size="12.7" text-anchor="middle" fill="#262626">−5</text>
<line x1="520.30" y1="174.90" x2="520.30" y2="178.40" stroke="#444" stroke-width="0.9"/>
<text x="520.30" y="191.00" font-size="12.7" text-anchor="middle" fill="#262626">0</text>
<line x1="565.50" y1="174.90" x2="565.50" y2="178.40" stroke="#444" stroke-width="0.9"/>
<text x="565.50" y="191.00" font-size="12.7" text-anchor="middle" fill="#262626">5</text>
<text x="535.90" y="204.30" font-size="13.2" text-anchor="middle" fill="#262626">PC1 (11.35%)</text>
<text x="433.60" y="97.30" font-size="13.2" text-anchor="middle" fill="#262626" transform="rotate(-90 433.6 97.3)">PC2 (5.71%)</text>
<circle cx="478.00" cy="88.70" r="3.00" fill="#5ac67c" stroke="#151515" stroke-width="0.7"/>
<circle cx="481.40" cy="88.20" r="3.00" fill="#5ac67c" stroke="#151515" stroke-width="0.7"/>
<circle cx="485.50" cy="87.90" r="3.00" fill="#5ac67c" stroke="#151515" stroke-width="0.7"/>
<circle cx="489.00" cy="87.90" r="3.00" fill="#5ac67c" stroke="#151515" stroke-width="0.7"/>
<circle cx="492.20" cy="88.20" r="3.00" fill="#5ac67c" stroke="#151515" stroke-width="0.7"/>
<circle cx="478.30" cy="90.90" r="3.00" fill="#5ac67c" stroke="#151515" stroke-width="0.7"/>
<circle cx="486.50" cy="90.30" r="3.00" fill="#5ac67c" stroke="#151515" stroke-width="0.7"/>
<circle cx="493.00" cy="90.40" r="3.00" fill="#5ac67c" stroke="#151515" stroke-width="0.7"/>
<circle cx="495.50" cy="89.90" r="3.00" fill="#5ac67c" stroke="#151515" stroke-width="0.7"/>
<circle cx="481.00" cy="94.00" r="3.00" fill="#5ac67c" stroke="#151515" stroke-width="0.7"/>
<circle cx="484.50" cy="93.20" r="3.00" fill="#5ac67c" stroke="#151515" stroke-width="0.7"/>
<circle cx="490.50" cy="95.00" r="3.00" fill="#5ac67c" stroke="#151515" stroke-width="0.7"/>
<circle cx="494.50" cy="93.50" r="3.00" fill="#5ac67c" stroke="#151515" stroke-width="0.7"/>
<circle cx="499.00" cy="91.00" r="3.00" fill="#5ac67c" stroke="#151515" stroke-width="0.7"/>
<circle cx="496.00" cy="97.50" r="3.00" fill="#5ac67c" stroke="#151515" stroke-width="0.7"/>
<circle cx="499.50" cy="96.50" r="3.00" fill="#5ac67c" stroke="#151515" stroke-width="0.7"/>
<circle cx="501.50" cy="95.50" r="3.00" fill="#5ac67c" stroke="#151515" stroke-width="0.7"/>
<circle cx="503.50" cy="99.00" r="3.00" fill="#5ac67c" stroke="#151515" stroke-width="0.7"/>
<circle cx="502.00" cy="103.00" r="3.00" fill="#5ac67c" stroke="#151515" stroke-width="0.7"/>
<circle cx="480.00" cy="90.30" r="3.00" fill="#5ac67c" stroke="#151515" stroke-width="0.7"/>
<circle cx="483.00" cy="89.50" r="3.00" fill="#5ac67c" stroke="#151515" stroke-width="0.7"/>
<circle cx="487.80" cy="89.30" r="3.00" fill="#5ac67c" stroke="#151515" stroke-width="0.7"/>
<circle cx="491.00" cy="89.80" r="3.00" fill="#5ac67c" stroke="#151515" stroke-width="0.7"/>
<circle cx="482.50" cy="92.20" r="3.00" fill="#5ac67c" stroke="#151515" stroke-width="0.7"/>
<circle cx="486.00" cy="92.60" r="3.00" fill="#5ac67c" stroke="#151515" stroke-width="0.7"/>
<circle cx="491.50" cy="93.00" r="3.00" fill="#5ac67c" stroke="#151515" stroke-width="0.7"/>
<circle cx="495.00" cy="92.10" r="3.00" fill="#5ac67c" stroke="#151515" stroke-width="0.7"/>
<circle cx="488.80" cy="97.00" r="3.00" fill="#5ac67c" stroke="#151515" stroke-width="0.7"/>
<circle cx="497.50" cy="95.00" r="3.00" fill="#5ac67c" stroke="#151515" stroke-width="0.7"/>
<circle cx="498.00" cy="99.50" r="3.00" fill="#5ac67c" stroke="#151515" stroke-width="0.7"/>
<circle cx="499.50" cy="101.80" r="3.00" fill="#5ac67c" stroke="#151515" stroke-width="0.7"/>
<circle cx="483.50" cy="90.70" r="3.00" fill="#5ac67c" stroke="#151515" stroke-width="0.7"/>
<circle cx="489.30" cy="92.30" r="3.00" fill="#5ac67c" stroke="#151515" stroke-width="0.7"/>
<circle cx="487.50" cy="95.50" r="3.00" fill="#5ac67c" stroke="#151515" stroke-width="0.7"/>
<circle cx="497.30" cy="93.20" r="3.00" fill="#5ac67c" stroke="#151515" stroke-width="0.7"/>
<circle cx="492.90" cy="98.50" r="3.00" fill="#5ac67c" stroke="#151515" stroke-width="0.7"/>
<circle cx="500.70" cy="100.60" r="3.00" fill="#5ac67c" stroke="#151515" stroke-width="0.7"/>
<circle cx="504.40" cy="98.90" r="3.00" fill="#5ac67c" stroke="#151515" stroke-width="0.7"/>
<circle cx="501.70" cy="103.60" r="3.00" fill="#5ac67c" stroke="#151515" stroke-width="0.7"/>
<circle cx="504.70" cy="111.40" r="3.00" fill="#5ac67c" stroke="#151515" stroke-width="0.7"/>
<circle cx="518.90" cy="119.30" r="3.00" fill="#5ac67c" stroke="#151515" stroke-width="0.7"/>
<circle cx="525.20" cy="125.20" r="3.00" fill="#5ac67c" stroke="#151515" stroke-width="0.7"/>
<circle cx="526.60" cy="145.90" r="3.00" fill="#5ac67c" stroke="#151515" stroke-width="0.7"/>
<circle cx="535.60" cy="116.20" r="3.00" fill="#acdde6" stroke="#151515" stroke-width="0.7"/>
<circle cx="545.00" cy="122.00" r="3.00" fill="#acdde6" stroke="#151515" stroke-width="0.7"/>
<circle cx="536.90" cy="128.30" r="3.00" fill="#acdde6" stroke="#151515" stroke-width="0.7"/>
<circle cx="553.90" cy="131.90" r="3.00" fill="#acdde6" stroke="#151515" stroke-width="0.7"/>
<circle cx="540.40" cy="138.10" r="3.00" fill="#acdde6" stroke="#151515" stroke-width="0.7"/>
<circle cx="534.20" cy="143.20" r="3.00" fill="#acdde6" stroke="#151515" stroke-width="0.7"/>
<circle cx="551.20" cy="143.20" r="3.00" fill="#acdde6" stroke="#151515" stroke-width="0.7"/>
<circle cx="551.20" cy="148.60" r="3.00" fill="#acdde6" stroke="#151515" stroke-width="0.7"/>
<circle cx="548.50" cy="152.50" r="3.00" fill="#acdde6" stroke="#151515" stroke-width="0.7"/>
<circle cx="553.90" cy="155.20" r="3.00" fill="#acdde6" stroke="#151515" stroke-width="0.7"/>
<circle cx="560.80" cy="152.20" r="3.00" fill="#acdde6" stroke="#151515" stroke-width="0.7"/>
<circle cx="566.50" cy="158.50" r="3.00" fill="#acdde6" stroke="#151515" stroke-width="0.7"/>
<circle cx="538.00" cy="120.50" r="3.00" fill="#acdde6" stroke="#151515" stroke-width="0.7"/>
<circle cx="540.70" cy="131.00" r="3.00" fill="#acdde6" stroke="#151515" stroke-width="0.7"/>
<circle cx="545.70" cy="121.60" r="3.00" fill="#acdde6" stroke="#151515" stroke-width="0.7"/>
<circle cx="549.50" cy="135.50" r="3.00" fill="#acdde6" stroke="#151515" stroke-width="0.7"/>
<circle cx="550.50" cy="150.50" r="3.00" fill="#acdde6" stroke="#151515" stroke-width="0.7"/>
<circle cx="528.40" cy="107.20" r="3.00" fill="#e9a22d" stroke="#151515" stroke-width="0.7"/>
<circle cx="527.00" cy="113.50" r="3.00" fill="#e9a22d" stroke="#151515" stroke-width="0.7"/>
<circle cx="532.40" cy="111.50" r="3.00" fill="#e9a22d" stroke="#151515" stroke-width="0.7"/>
<circle cx="529.70" cy="118.40" r="3.00" fill="#e9a22d" stroke="#151515" stroke-width="0.7"/>
<circle cx="532.90" cy="125.20" r="3.00" fill="#e9a22d" stroke="#151515" stroke-width="0.7"/>
<circle cx="540.40" cy="120.20" r="3.00" fill="#e9a22d" stroke="#151515" stroke-width="0.7"/>
<circle cx="539.90" cy="123.80" r="3.00" fill="#e9a22d" stroke="#151515" stroke-width="0.7"/>
<circle cx="543.10" cy="127.40" r="3.00" fill="#e9a22d" stroke="#151515" stroke-width="0.7"/>
<circle cx="548.20" cy="127.40" r="3.00" fill="#e9a22d" stroke="#151515" stroke-width="0.7"/>
<circle cx="545.80" cy="133.30" r="3.00" fill="#e9a22d" stroke="#151515" stroke-width="0.7"/>
<circle cx="534.20" cy="133.30" r="3.00" fill="#e9a22d" stroke="#151515" stroke-width="0.7"/>
<circle cx="552.50" cy="134.60" r="3.00" fill="#e9a22d" stroke="#151515" stroke-width="0.7"/>
<circle cx="553.00" cy="138.50" r="3.00" fill="#e9a22d" stroke="#151515" stroke-width="0.7"/>
<circle cx="538.30" cy="142.60" r="3.00" fill="#e9a22d" stroke="#151515" stroke-width="0.7"/>
<circle cx="545.50" cy="143.90" r="3.00" fill="#e9a22d" stroke="#151515" stroke-width="0.7"/>
<circle cx="552.10" cy="153.60" r="3.00" fill="#e9a22d" stroke="#151515" stroke-width="0.7"/>
<circle cx="562.90" cy="159.40" r="3.00" fill="#e9a22d" stroke="#151515" stroke-width="0.7"/>
<circle cx="559.70" cy="162.40" r="3.00" fill="#e9a22d" stroke="#151515" stroke-width="0.7"/>
<circle cx="565.10" cy="167.80" r="3.00" fill="#e9a22d" stroke="#151515" stroke-width="0.7"/>
<circle cx="571.90" cy="84.50" r="3.00" fill="#e9a22d" stroke="#151515" stroke-width="0.7"/>
<circle cx="544.50" cy="125.00" r="3.00" fill="#e9a22d" stroke="#151515" stroke-width="0.7"/>
<circle cx="537.00" cy="122.50" r="3.00" fill="#e9a22d" stroke="#151515" stroke-width="0.7"/>
<circle cx="549.50" cy="130.50" r="3.00" fill="#e9a22d" stroke="#151515" stroke-width="0.7"/>
<circle cx="551.00" cy="137.00" r="3.00" fill="#e9a22d" stroke="#151515" stroke-width="0.7"/>
<circle cx="568.60" cy="45.20" r="3.00" fill="#f8e1e0" stroke="#151515" stroke-width="0.7"/>
<circle cx="579.50" cy="54.50" r="3.00" fill="#f8e1e0" stroke="#151515" stroke-width="0.7"/>
<circle cx="559.70" cy="27.60" r="3.00" fill="#f8e1e0" stroke="#151515" stroke-width="0.7"/>
<circle cx="572.20" cy="36.20" r="3.00" fill="#f8e1e0" stroke="#151515" stroke-width="0.7"/>
<circle cx="581.40" cy="34.20" r="3.00" fill="#f8e1e0" stroke="#151515" stroke-width="0.7"/>
<circle cx="586.40" cy="39.20" r="3.00" fill="#f8e1e0" stroke="#151515" stroke-width="0.7"/>
<circle cx="592.40" cy="39.30" r="3.00" fill="#f8e1e0" stroke="#151515" stroke-width="0.7"/>
<circle cx="567.20" cy="43.60" r="3.00" fill="#f8e1e0" stroke="#151515" stroke-width="0.7"/>
<circle cx="564.90" cy="46.40" r="3.00" fill="#f8e1e0" stroke="#151515" stroke-width="0.7"/>
<circle cx="567.50" cy="51.00" r="3.00" fill="#f8e1e0" stroke="#151515" stroke-width="0.7"/>
<circle cx="576.50" cy="43.10" r="3.00" fill="#f8e1e0" stroke="#151515" stroke-width="0.7"/>
<circle cx="584.80" cy="44.90" r="3.00" fill="#f8e1e0" stroke="#151515" stroke-width="0.7"/>
<circle cx="581.20" cy="48.60" r="3.00" fill="#f8e1e0" stroke="#151515" stroke-width="0.7"/>
<circle cx="577.40" cy="49.10" r="3.00" fill="#f8e1e0" stroke="#151515" stroke-width="0.7"/>
<circle cx="588.80" cy="49.60" r="3.00" fill="#f8e1e0" stroke="#151515" stroke-width="0.7"/>
<circle cx="590.30" cy="53.50" r="3.00" fill="#f8e1e0" stroke="#151515" stroke-width="0.7"/>
<circle cx="576.20" cy="55.40" r="3.00" fill="#f8e1e0" stroke="#151515" stroke-width="0.7"/>
<circle cx="580.40" cy="60.40" r="3.00" fill="#f8e1e0" stroke="#151515" stroke-width="0.7"/>
<circle cx="588.80" cy="61.70" r="3.00" fill="#f8e1e0" stroke="#151515" stroke-width="0.7"/>
<circle cx="586.90" cy="63.70" r="3.00" fill="#f8e1e0" stroke="#151515" stroke-width="0.7"/>
<circle cx="587.20" cy="69.60" r="3.00" fill="#f8e1e0" stroke="#151515" stroke-width="0.7"/>
<circle cx="562.80" cy="65.90" r="3.00" fill="#f8e1e0" stroke="#151515" stroke-width="0.7"/>
<circle cx="543.50" cy="69.20" r="3.00" fill="#f8e1e0" stroke="#151515" stroke-width="0.7"/>
<circle cx="579.00" cy="79.30" r="3.00" fill="#f8e1e0" stroke="#151515" stroke-width="0.7"/>
<circle cx="593.50" cy="78.20" r="3.00" fill="#f8e1e0" stroke="#151515" stroke-width="0.7"/>
<circle cx="612.80" cy="91.90" r="3.20" fill="#5ac67c" stroke="#151515" stroke-width="0.55"/>
<text x="635.00" y="96.30" font-size="12.4" text-anchor="start" fill="#262626">SDZWA</text>
<circle cx="612.80" cy="109.70" r="3.20" fill="#acdde6" stroke="#151515" stroke-width="0.55"/>
<text x="635.00" y="114.10" font-size="12.4" text-anchor="start" fill="#262626">QLD</text>
<circle cx="612.80" cy="127.50" r="3.20" fill="#e9a22d" stroke="#151515" stroke-width="0.55"/>
<text x="635.00" y="131.90" font-size="12.4" text-anchor="start" fill="#262626">NSW</text>
<circle cx="612.80" cy="145.30" r="3.20" fill="#f8e1e0" stroke="#151515" stroke-width="0.55"/>
<text x="635.00" y="149.70" font-size="12.4" text-anchor="start" fill="#262626">VIC</text>
<line x1="471.70" y1="254.30" x2="471.70" y2="412.40" stroke="#8c8c8c" stroke-width="1.1"/>
<line x1="471.20" y1="412.30" x2="603.00" y2="412.30" stroke="#8c8c8c" stroke-width="1.1"/>
<line x1="468.20" y1="282.90" x2="471.70" y2="282.90" stroke="#444" stroke-width="0.9"/>
<text x="466.00" y="287.70" font-size="12.9" text-anchor="end" fill="#262626">20</text>
<line x1="468.20" y1="311.30" x2="471.70" y2="311.30" stroke="#444" stroke-width="0.9"/>
<text x="466.00" y="316.10" font-size="12.9" text-anchor="end" fill="#262626">10</text>
<line x1="468.20" y1="339.70" x2="471.70" y2="339.70" stroke="#444" stroke-width="0.9"/>
<text x="466.00" y="344.50" font-size="12.9" text-anchor="end" fill="#262626">0</text>
<line x1="468.20" y1="368.10" x2="471.70" y2="368.10" stroke="#444" stroke-width="0.9"/>
<text x="466.00" y="372.90" font-size="12.9" text-anchor="end" fill="#262626">−10</text>
<line x1="468.20" y1="396.50" x2="471.70" y2="396.50" stroke="#444" stroke-width="0.9"/>
<text x="466.00" y="401.30" font-size="12.9" text-anchor="end" fill="#262626">−20</text>
<line x1="531.30" y1="412.30" x2="531.30" y2="415.80" stroke="#444" stroke-width="0.9"/>
<text x="531.30" y="428.30" font-size="12.7" text-anchor="middle" fill="#262626">0</text>
<line x1="602.50" y1="412.30" x2="602.50" y2="415.80" stroke="#444" stroke-width="0.9"/>
<text x="602.50" y="428.30" font-size="12.7" text-anchor="middle" fill="#262626">20</text>
<text x="537.70" y="442.50" font-size="12.9" text-anchor="middle" fill="#262626">PC1 (3.49%)</text>
<text x="436.30" y="337.00" font-size="12.9" text-anchor="middle" fill="#262626" transform="rotate(-90 436.3 337.0)">PC2 (3.17%)</text>
<circle cx="502.20" cy="343.10" r="3.00" fill="#5ac67c" stroke="#151515" stroke-width="0.7"/>
<circle cx="499.50" cy="341.50" r="3.00" fill="#5ac67c" stroke="#151515" stroke-width="0.7"/>
<circle cx="505.00" cy="342.00" r="3.00" fill="#5ac67c" stroke="#151515" stroke-width="0.7"/>
<circle cx="508.80" cy="343.50" r="3.00" fill="#5ac67c" stroke="#151515" stroke-width="0.7"/>
<circle cx="513.20" cy="342.60" r="3.00" fill="#5ac67c" stroke="#151515" stroke-width="0.7"/>
<circle cx="505.30" cy="335.20" r="3.00" fill="#5ac67c" stroke="#151515" stroke-width="0.7"/>
<circle cx="510.50" cy="333.40" r="3.00" fill="#5ac67c" stroke="#151515" stroke-width="0.7"/>
<circle cx="510.10" cy="339.10" r="3.00" fill="#5ac67c" stroke="#151515" stroke-width="0.7"/>
<circle cx="516.20" cy="336.10" r="3.00" fill="#5ac67c" stroke="#151515" stroke-width="0.7"/>
<circle cx="519.30" cy="333.90" r="3.00" fill="#5ac67c" stroke="#151515" stroke-width="0.7"/>
<circle cx="521.90" cy="335.60" r="3.00" fill="#5ac67c" stroke="#151515" stroke-width="0.7"/>
<circle cx="524.50" cy="339.10" r="3.00" fill="#5ac67c" stroke="#151515" stroke-width="0.7"/>
<circle cx="527.60" cy="333.90" r="3.00" fill="#5ac67c" stroke="#151515" stroke-width="0.7"/>
<circle cx="530.20" cy="331.30" r="3.00" fill="#5ac67c" stroke="#151515" stroke-width="0.7"/>
<circle cx="521.00" cy="341.80" r="3.00" fill="#5ac67c" stroke="#151515" stroke-width="0.7"/>
<circle cx="507.50" cy="337.50" r="3.00" fill="#5ac67c" stroke="#151515" stroke-width="0.7"/>
<circle cx="513.50" cy="336.00" r="3.00" fill="#5ac67c" stroke="#151515" stroke-width="0.7"/>
<circle cx="517.50" cy="339.50" r="3.00" fill="#5ac67c" stroke="#151515" stroke-width="0.7"/>
<circle cx="531.80" cy="327.90" r="3.00" fill="#5ac67c" stroke="#151515" stroke-width="0.7"/>
<circle cx="535.70" cy="325.30" r="3.00" fill="#5ac67c" stroke="#151515" stroke-width="0.7"/>
<circle cx="535.00" cy="330.50" r="3.00" fill="#5ac67c" stroke="#151515" stroke-width="0.7"/>
<circle cx="541.60" cy="325.90" r="3.00" fill="#5ac67c" stroke="#151515" stroke-width="0.7"/>
<circle cx="546.00" cy="326.60" r="3.00" fill="#5ac67c" stroke="#151515" stroke-width="0.7"/>
<circle cx="544.90" cy="333.10" r="3.00" fill="#5ac67c" stroke="#151515" stroke-width="0.7"/>
<circle cx="548.80" cy="320.70" r="3.00" fill="#5ac67c" stroke="#151515" stroke-width="0.7"/>
<circle cx="533.00" cy="320.00" r="3.00" fill="#5ac67c" stroke="#151515" stroke-width="0.7"/>
<circle cx="525.10" cy="337.90" r="3.00" fill="#5ac67c" stroke="#151515" stroke-width="0.7"/>
<circle cx="528.10" cy="332.90" r="3.00" fill="#5ac67c" stroke="#151515" stroke-width="0.7"/>
<circle cx="533.10" cy="314.70" r="3.00" fill="#5ac67c" stroke="#151515" stroke-width="0.7"/>
<circle cx="533.10" cy="318.70" r="3.00" fill="#5ac67c" stroke="#151515" stroke-width="0.7"/>
<circle cx="537.20" cy="325.40" r="3.00" fill="#5ac67c" stroke="#151515" stroke-width="0.7"/>
<circle cx="542.20" cy="326.20" r="3.00" fill="#5ac67c" stroke="#151515" stroke-width="0.7"/>
<circle cx="545.70" cy="326.80" r="3.00" fill="#5ac67c" stroke="#151515" stroke-width="0.7"/>
<circle cx="535.20" cy="330.80" r="3.00" fill="#5ac67c" stroke="#151515" stroke-width="0.7"/>
<circle cx="544.30" cy="333.50" r="3.00" fill="#5ac67c" stroke="#151515" stroke-width="0.7"/>
<circle cx="549.70" cy="319.70" r="3.00" fill="#5ac67c" stroke="#151515" stroke-width="0.7"/>
<circle cx="563.10" cy="323.20" r="3.00" fill="#5ac67c" stroke="#151515" stroke-width="0.7"/>
<circle cx="555.40" cy="305.60" r="3.00" fill="#5ac67c" stroke="#151515" stroke-width="0.7"/>
<circle cx="579.30" cy="304.80" r="3.00" fill="#5ac67c" stroke="#151515" stroke-width="0.7"/>
<circle cx="588.80" cy="297.10" r="3.00" fill="#5ac67c" stroke="#151515" stroke-width="0.7"/>
<circle cx="581.30" cy="288.80" r="3.00" fill="#5ac67c" stroke="#151515" stroke-width="0.7"/>
<circle cx="587.80" cy="282.90" r="3.00" fill="#5ac67c" stroke="#151515" stroke-width="0.7"/>
<circle cx="590.40" cy="279.30" r="3.00" fill="#5ac67c" stroke="#151515" stroke-width="0.7"/>
<circle cx="588.40" cy="276.20" r="3.00" fill="#5ac67c" stroke="#151515" stroke-width="0.7"/>
<circle cx="587.20" cy="269.60" r="3.00" fill="#5ac67c" stroke="#151515" stroke-width="0.7"/>
<circle cx="597.30" cy="272.20" r="3.00" fill="#5ac67c" stroke="#151515" stroke-width="0.7"/>
<circle cx="594.40" cy="261.50" r="3.00" fill="#5ac67c" stroke="#151515" stroke-width="0.7"/>
<circle cx="533.50" cy="340.50" r="3.00" fill="#acdde6" stroke="#151515" stroke-width="0.7"/>
<circle cx="535.50" cy="338.50" r="3.00" fill="#acdde6" stroke="#151515" stroke-width="0.7"/>
<circle cx="538.50" cy="338.80" r="3.00" fill="#acdde6" stroke="#151515" stroke-width="0.7"/>
<circle cx="540.50" cy="341.50" r="3.00" fill="#acdde6" stroke="#151515" stroke-width="0.7"/>
<circle cx="540.00" cy="344.50" r="3.00" fill="#acdde6" stroke="#151515" stroke-width="0.7"/>
<circle cx="537.50" cy="346.00" r="3.00" fill="#acdde6" stroke="#151515" stroke-width="0.7"/>
<circle cx="534.50" cy="345.00" r="3.00" fill="#acdde6" stroke="#151515" stroke-width="0.7"/>
<circle cx="532.80" cy="342.50" r="3.00" fill="#acdde6" stroke="#151515" stroke-width="0.7"/>
<circle cx="537.80" cy="340.10" r="3.00" fill="#e9a22d" stroke="#151515" stroke-width="0.7"/>
<circle cx="544.30" cy="344.60" r="3.00" fill="#e9a22d" stroke="#151515" stroke-width="0.7"/>
<circle cx="550.70" cy="342.90" r="3.00" fill="#e9a22d" stroke="#151515" stroke-width="0.7"/>
<circle cx="547.30" cy="353.30" r="3.00" fill="#e9a22d" stroke="#151515" stroke-width="0.7"/>
<circle cx="550.30" cy="355.90" r="3.00" fill="#e9a22d" stroke="#151515" stroke-width="0.7"/>
<circle cx="556.00" cy="361.40" r="3.00" fill="#e9a22d" stroke="#151515" stroke-width="0.7"/>
<circle cx="558.40" cy="365.40" r="3.00" fill="#e9a22d" stroke="#151515" stroke-width="0.7"/>
<circle cx="561.10" cy="366.00" r="3.00" fill="#e9a22d" stroke="#151515" stroke-width="0.7"/>
<circle cx="573.60" cy="349.80" r="3.00" fill="#e9a22d" stroke="#151515" stroke-width="0.7"/>
<circle cx="571.60" cy="354.30" r="3.00" fill="#e9a22d" stroke="#151515" stroke-width="0.7"/>
<circle cx="577.00" cy="353.90" r="3.00" fill="#e9a22d" stroke="#151515" stroke-width="0.7"/>
<circle cx="572.50" cy="351.50" r="3.00" fill="#e9a22d" stroke="#151515" stroke-width="0.7"/>
<circle cx="568.10" cy="379.00" r="3.00" fill="#e9a22d" stroke="#151515" stroke-width="0.7"/>
<circle cx="572.20" cy="386.20" r="3.00" fill="#e9a22d" stroke="#151515" stroke-width="0.7"/>
<circle cx="575.60" cy="387.60" r="3.00" fill="#e9a22d" stroke="#151515" stroke-width="0.7"/>
<circle cx="573.00" cy="390.30" r="3.00" fill="#e9a22d" stroke="#151515" stroke-width="0.7"/>
<circle cx="576.60" cy="394.70" r="3.00" fill="#e9a22d" stroke="#151515" stroke-width="0.7"/>
<circle cx="580.70" cy="394.30" r="3.00" fill="#e9a22d" stroke="#151515" stroke-width="0.7"/>
<circle cx="584.70" cy="398.40" r="3.00" fill="#e9a22d" stroke="#151515" stroke-width="0.7"/>
<circle cx="587.80" cy="400.80" r="3.00" fill="#e9a22d" stroke="#151515" stroke-width="0.7"/>
<circle cx="584.30" cy="405.20" r="3.00" fill="#e9a22d" stroke="#151515" stroke-width="0.7"/>
<circle cx="586.00" cy="402.00" r="3.00" fill="#e9a22d" stroke="#151515" stroke-width="0.7"/>
<circle cx="537.00" cy="343.40" r="3.00" fill="#f8e1e0" stroke="#151515" stroke-width="0.7"/>
<circle cx="477.70" cy="335.60" r="3.00" fill="#808080" stroke="#151515" stroke-width="0.7"/>
<circle cx="482.10" cy="334.80" r="3.00" fill="#808080" stroke="#151515" stroke-width="0.7"/>
<circle cx="479.00" cy="338.70" r="3.00" fill="#808080" stroke="#151515" stroke-width="0.7"/>
<circle cx="483.00" cy="339.10" r="3.00" fill="#808080" stroke="#151515" stroke-width="0.7"/>
<circle cx="487.80" cy="340.00" r="3.00" fill="#808080" stroke="#151515" stroke-width="0.7"/>
<circle cx="490.80" cy="336.90" r="3.00" fill="#808080" stroke="#151515" stroke-width="0.7"/>
<circle cx="485.60" cy="335.00" r="3.00" fill="#808080" stroke="#151515" stroke-width="0.7"/>
<circle cx="481.00" cy="337.00" r="3.00" fill="#808080" stroke="#151515" stroke-width="0.7"/>
<circle cx="486.00" cy="338.00" r="3.00" fill="#808080" stroke="#151515" stroke-width="0.7"/>
<circle cx="493.50" cy="338.50" r="3.00" fill="#808080" stroke="#151515" stroke-width="0.7"/>
<circle cx="497.00" cy="339.60" r="3.00" fill="#808080" stroke="#151515" stroke-width="0.7"/>
<circle cx="498.70" cy="335.20" r="3.00" fill="#808080" stroke="#151515" stroke-width="0.7"/>
<circle cx="505.30" cy="339.60" r="3.00" fill="#808080" stroke="#151515" stroke-width="0.7"/>
<circle cx="516.70" cy="342.20" r="3.00" fill="#808080" stroke="#151515" stroke-width="0.7"/>
<circle cx="617.20" cy="321.10" r="3.20" fill="#5ac67c" stroke="#151515" stroke-width="0.55"/>
<text x="639.50" y="325.50" font-size="12.4" text-anchor="start" fill="#262626">SDZWA</text>
<circle cx="617.20" cy="338.80" r="3.20" fill="#acdde6" stroke="#151515" stroke-width="0.55"/>
<text x="639.50" y="343.20" font-size="12.4" text-anchor="start" fill="#262626">QLD</text>
<circle cx="617.20" cy="356.50" r="3.20" fill="#e9a22d" stroke="#151515" stroke-width="0.55"/>
<text x="639.50" y="360.90" font-size="12.4" text-anchor="start" fill="#262626">NSW</text>
<circle cx="617.20" cy="374.20" r="3.20" fill="#f8e1e0" stroke="#151515" stroke-width="0.55"/>
<text x="639.50" y="378.60" font-size="12.4" text-anchor="start" fill="#262626">VIC</text>
<circle cx="617.20" cy="391.90" r="3.20" fill="#808080" stroke="#151515" stroke-width="0.55"/>
<text x="639.50" y="396.30" font-size="12.4" text-anchor="start" fill="#262626">EUZ</text>
</svg>
</body></html>
